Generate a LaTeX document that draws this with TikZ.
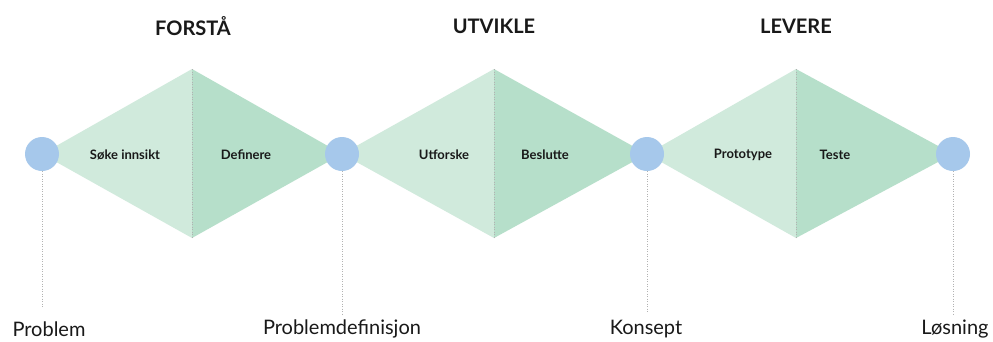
\documentclass[tikz,border=0pt]{standalone}
\usepackage{fontspec}
\setmainfont{Lato}
\begin{document}
\begin{tikzpicture}[x=1pt,y=-1pt,
  stage/.style={font=\fontsize{20}{24}\selectfont\bfseries, text=black!90},
  activity/.style={font=\fontsize{13}{15}\selectfont\bfseries, text=black!90},
  milestone/.style={circle, fill=circ, minimum size=34pt, inner sep=0pt},
  outcome/.style={font=\fontsize{20}{24}\selectfont, text=black!90},
  guide/.style={draw=black!30, dotted, line width=0.5pt}]
\definecolor{lightg}{HTML}{D0EADC}
\definecolor{darkg}{HTML}{B6DFCA}
\definecolor{circ}{HTML}{A6C8EB}
\useasboundingbox (0,0) rectangle (993,341);
\fill[white] (0,0) rectangle (993,341);

% three diamonds, each split into two halves
\foreach \a/\m/\b in {42/192/342, 342/494/647, 647/796/953}{
  \fill[lightg] (\a,154) -- (\m,69) -- (\m,238) -- cycle;
  \fill[darkg] (\m,69) -- (\b,154) -- (\m,238) -- cycle;
  \draw[guide] (\m,69) -- (\m,238);
}

% milestones
\node[milestone] (m1) at (42,154) {};
\node[milestone] (m2) at (342,154) {};
\node[milestone] (m3) at (647,154) {};
\node[milestone] (m4) at (953,154) {};

% outcome anchors
\coordinate (e1) at (42,307);
\coordinate (e2) at (342,315);
\coordinate (e3) at (647,313);
\coordinate (e4) at (953,315);
\draw[guide] (m1.south) -- (e1);
\draw[guide] (m2.south) -- (e2);
\draw[guide] (m3.south) -- (e3);
\draw[guide] (m4.south) -- (e4);

% outcome labels
\node[outcome] (o1) at (49,329) {Problem};
\node[outcome] (o2) at (342,329) {Problemdefinisjon};
\node[outcome] (o3) at (646,329) {Konsept};
\node[outcome] (o4) at (955,329) {Løsning};

% stage titles
\node[stage] (s1) at (193,26) {FORSTÅ};
\node[stage] (s2) at (494,26) {UTVIKLE};
\node[stage] (s3) at (796,26) {LEVERE};

% activities
\node[activity] (a1) at (125,155) {Søke innsikt};
\node[activity] (a2) at (246,155) {Definere};
\node[activity] (a3) at (444,155) {Utforske};
\node[activity] (a4) at (545,155) {Beslutte};
\node[activity] (a5) at (743,155) {Prototype};
\node[activity] (a6) at (835,155) {Teste};
\end{tikzpicture}
\end{document}
